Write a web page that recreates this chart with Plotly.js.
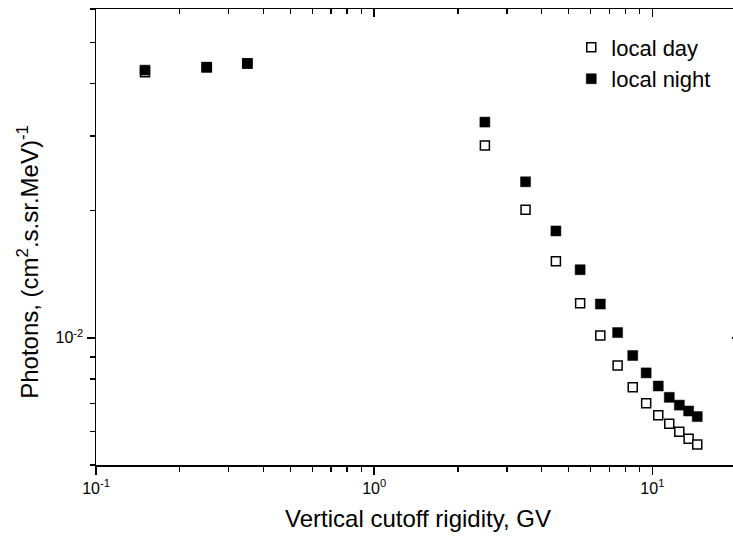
<!DOCTYPE html>
<html>
<head>
<meta charset="utf-8">
<script src="https://cdn.plot.ly/plotly-3.0.1.min.js"></script>
<style>
  html, body { margin: 0; padding: 0; overflow: hidden; background: #fff; }
  #chart { width: 744px; height: 541px; }
</style>
</head>
<body>
<div id="chart"></div>
<script>
// Vertical cutoff rigidity (GV)
const rigidity = [0.15, 0.25, 0.35, 2.5, 3.5, 4.5, 5.5, 6.5, 7.5, 8.5, 9.5, 10.5, 11.5, 12.5, 13.5, 14.5];

// Photon flux, (cm^2.s.sr.MeV)^-1
const localDay = [0.0425, 0.0437, 0.0446, 0.0285, 0.0201, 0.01517, 0.01208, 0.01013, 0.0086, 0.00764, 0.0070, 0.00656, 0.00626, 0.00599, 0.00577, 0.00559];
const localNight = [0.0430, 0.0437, 0.0446, 0.0324, 0.0234, 0.0179, 0.01449, 0.01202, 0.01029, 0.00908, 0.00826, 0.00769, 0.00723, 0.00693, 0.00671, 0.00651];

const seriesNames = ['local day', 'local night'];

const xMajor = [0.1, 1, 10];
const xMajorText = ['10<sup>-1</sup>', '10<sup>0</sup>', '10<sup>1</sup>'];
const xMinor = [0.2, 0.3, 0.4, 0.5, 0.6, 0.7, 0.8, 0.9, 2, 3, 4, 5, 6, 7, 8, 9, 20];
const yMajor = [0.01];
const yMajorText = ['10<sup>-2</sup>'];
const yMinor = [0.005, 0.006, 0.007, 0.008, 0.009, 0.02, 0.03, 0.04, 0.05, 0.06];

const xRange = [-1, 1.315];
const yRange = [Math.log10(0.005), Math.log10(0.06)];

const font = '"Liberation Sans", Arial, sans-serif';

const traces = [
  {
    x: rigidity, y: localDay, name: seriesNames[0],
    type: 'scatter', mode: 'markers',
    marker: { symbol: 'square', size: 9, color: '#ffffff', line: { color: '#000000', width: 1.5 } }
  },
  {
    x: rigidity, y: localNight, name: seriesNames[1],
    type: 'scatter', mode: 'markers',
    marker: { symbol: 'square', size: 10, color: '#000000', line: { color: '#000000', width: 0.5 } }
  },
  // empty trace that carries the mirrored top/right frame axes
  { x: [], y: [], xaxis: 'x2', yaxis: 'y2', showlegend: false, hoverinfo: 'skip' }
];

const baseAxis = {
  type: 'log', showgrid: false, zeroline: false,
  showline: true, linecolor: '#000', linewidth: 1.5,
  ticks: 'outside', ticklen: 8, tickwidth: 1.5, tickcolor: '#000',
  tickfont: { family: font, size: 16, color: '#000' }
};

const layout = {
  width: 744, height: 541,
  margin: { l: 96, r: 4, t: 9, b: 76 },
  paper_bgcolor: '#fff', plot_bgcolor: '#fff',
  showlegend: true,
  legend: {
    x: 0.738, y: 0.962, xanchor: 'left', yanchor: 'top',
    bgcolor: 'rgba(0,0,0,0)', borderwidth: 0,
    font: { family: font, size: 22, color: '#000' },
    tracegroupgap: 0
  },
  xaxis: Object.assign({}, baseAxis, {
    range: xRange, tickmode: 'array', tickvals: xMajor, ticktext: xMajorText,
    minor: { tickmode: 'array', tickvals: xMinor, ticks: 'outside', ticklen: 5, tickwidth: 1.5, tickcolor: '#000' },
    title: { text: 'Vertical cutoff rigidity, GV', font: { family: font, size: 24, color: '#000' }, standoff: 14 }
  }),
  yaxis: Object.assign({}, baseAxis, {
    range: yRange, tickmode: 'array', tickvals: yMajor, ticktext: yMajorText,
    minor: { tickmode: 'array', tickvals: yMinor, ticks: 'outside', ticklen: 5, tickwidth: 1.5, tickcolor: '#000' }
  }),
  xaxis2: Object.assign({}, baseAxis, {
    overlaying: 'x', side: 'top', anchor: 'y2', range: xRange,
    ticks: 'inside', tickmode: 'array', tickvals: xMajor, showticklabels: false,
    minor: { tickmode: 'array', tickvals: xMinor, ticks: 'inside', ticklen: 5, tickwidth: 1.5, tickcolor: '#000' }
  }),
  yaxis2: Object.assign({}, baseAxis, {
    overlaying: 'y', side: 'right', anchor: 'x2', range: yRange,
    ticks: 'inside', tickmode: 'array', tickvals: yMajor, showticklabels: false,
    minor: { tickmode: 'array', tickvals: yMinor, ticks: 'inside', ticklen: 5, tickwidth: 1.5, tickcolor: '#000' }
  }),
  annotations: [{
    text: 'Photons, (cm<sup>2</sup>.s.sr.MeV)<sup>-1</sup>',
    xref: 'paper', yref: 'paper', x: -0.106, y: 0.445,
    xanchor: 'center', yanchor: 'middle', textangle: -90, showarrow: false,
    font: { family: font, size: 24, color: '#000' }
  }]
};

Plotly.newPlot('chart', traces, layout, { staticPlot: true, displayModeBar: false });
</script>
</body>
</html>
